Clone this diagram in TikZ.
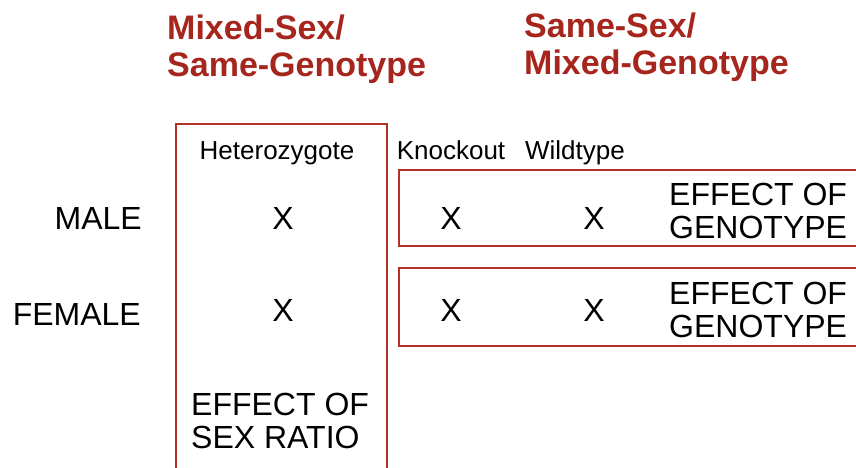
\documentclass[tikz,border=0pt]{standalone}
\usepackage{fontspec}
\setmainfont{Liberation Sans}
\definecolor{titlered}{RGB}{166,38,30}
\definecolor{boxred}{RGB}{178,48,40}
\begin{document}
\begin{tikzpicture}[x=1pt,y=-1pt,
  title/.style={anchor=base west,inner sep=0pt,align=left,text=titlered,font=\fontsize{34}{37}\selectfont\bfseries},
  colhead/.style={anchor=base,inner sep=0pt,font=\fontsize{26}{28}\selectfont},
  rowhead/.style={anchor=base east,inner sep=0pt,font=\fontsize{32}{34}\selectfont},
  xmark/.style={anchor=base,inner sep=0pt,font=\fontsize{32}{34}\selectfont},
  effect/.style={anchor=base west,inner sep=0pt,align=left,font=\fontsize{32}{33.5}\selectfont},
  frame/.style={draw=boxred,line width=1.9pt}]
\useasboundingbox (0,0) rectangle (856,468);
\fill[white] (0,0) rectangle (856,468);
% titles (anchored at the baseline of the last line)
\node[title] (t1) at (167,77) {Mixed-Sex/\\Same-Genotype};
\node[title] (t2) at (524,75) {Same-Sex/\\Mixed-Genotype};
% frames
\coordinate (lb1) at (176,480);
\coordinate (lt1) at (176,124);
\coordinate (lt2) at (387,124);
\coordinate (lb2) at (387,480);
\draw[frame] (lb1) -- (lt1) -- (lt2) -- (lb2);
\coordinate (r1a) at (870,170);
\coordinate (r1b) at (399,170);
\coordinate (r1c) at (399,246);
\coordinate (r1d) at (870,246);
\draw[frame] (r1a) -- (r1b) -- (r1c) -- (r1d);
\coordinate (r2a) at (870,268);
\coordinate (r2b) at (399,268);
\coordinate (r2c) at (399,346);
\coordinate (r2d) at (870,346);
\draw[frame] (r2a) -- (r2b) -- (r2c) -- (r2d);
% column heads
\node[colhead] (het) at (277,159) {Heterozygote};
\node[colhead] (ko) at (451,159) {Knockout};
\node[colhead] (wt) at (575,159) {Wildtype};
% row heads
\node[rowhead] (male) at (142,229.5) {MALE};
\node[rowhead] (female) at (141,325.5) {FEMALE};
% marks
\node[xmark] (x11) at (283,229) {X};
\node[xmark] (x12) at (451,229) {X};
\node[xmark] (x13) at (594,229) {X};
\node[xmark] (x21) at (283,321.5) {X};
\node[xmark] (x22) at (451,321.5) {X};
\node[xmark] (x23) at (594,321.5) {X};
% effects (anchored at the baseline of the last line)
\node[effect] (eg1) at (669,238.5) {EFFECT OF\\GENOTYPE};
\node[effect] (eg2) at (669,337.5) {EFFECT OF\\GENOTYPE};
\node[effect] (es) at (191,448.5) {EFFECT OF\\SEX RATIO};
\end{tikzpicture}
\end{document}
